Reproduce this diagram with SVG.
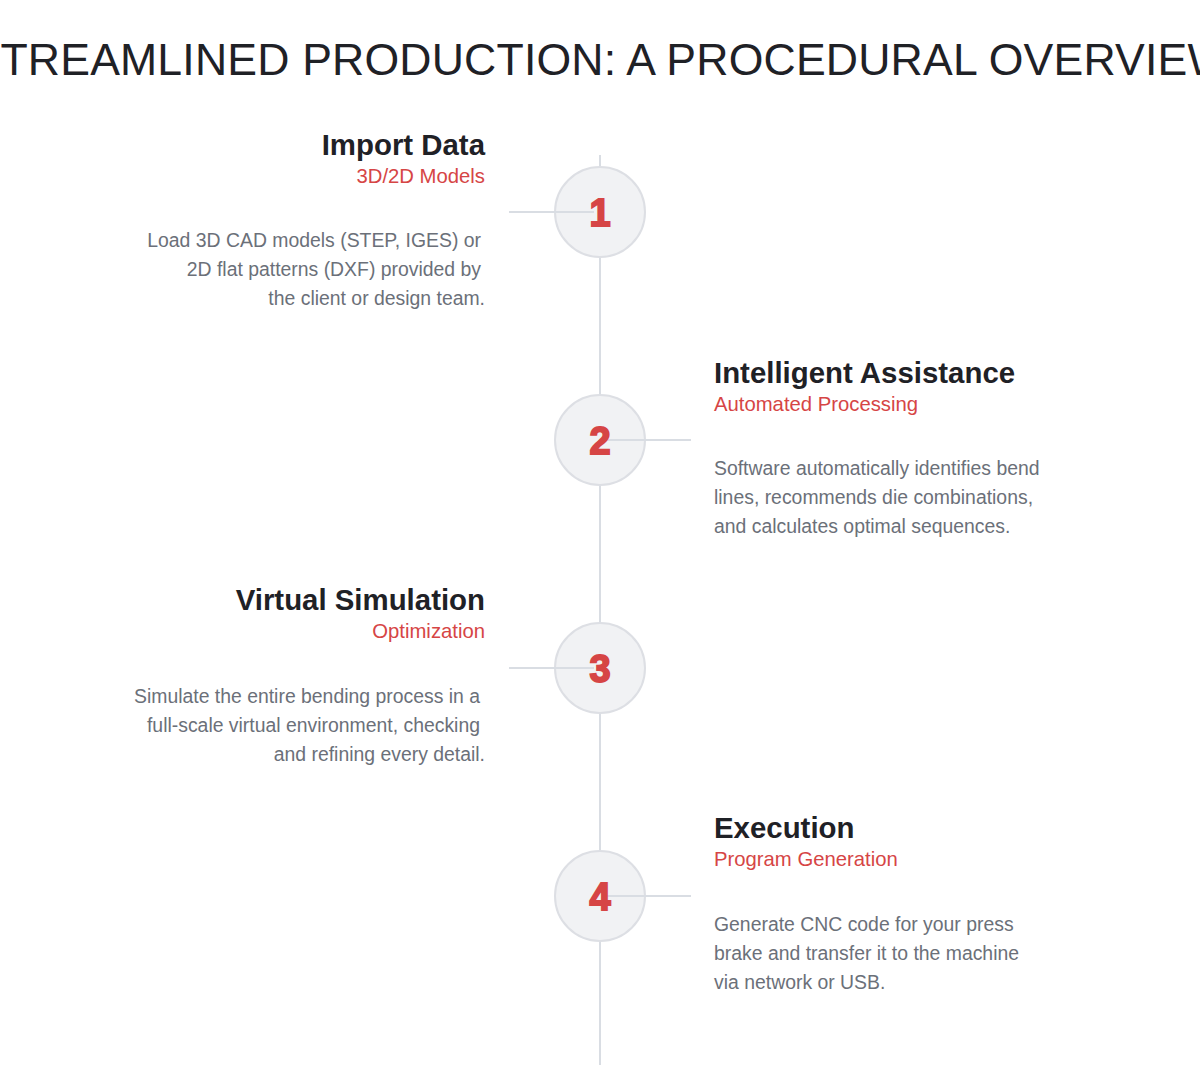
<svg xmlns="http://www.w3.org/2000/svg" width="1200" height="1089" viewBox="0 0 1200 1089">
<style>
.title{font-family:"Liberation Sans",Arial,sans-serif;font-size:44.6px;fill:#1f2126;}
.h{font-family:"Liberation Sans",Arial,sans-serif;font-size:29.4px;font-weight:bold;fill:#1f2126;}
.sub{font-family:"Liberation Sans",Arial,sans-serif;font-size:20.3px;fill:#d64545;}
.d{font-family:"Liberation Sans",Arial,sans-serif;font-size:19.4px;fill:#6b7079;}
.l{text-anchor:end;}
.circ{fill:#f1f2f4;stroke:#dddfe4;stroke-width:2;}
.num{font-family:"Liberation Sans",Arial,sans-serif;font-size:38px;font-weight:900;fill:#d64545;stroke:#d64545;stroke-width:1.8;text-anchor:middle;}
.tl{stroke:#d9dde3;stroke-width:2;fill:none;}
</style>
<rect width="1200" height="1089" fill="#ffffff"/>
<text class="title" x="600" y="74.5" text-anchor="middle" textLength="1259" lengthAdjust="spacing">STREAMLINED PRODUCTION: A PROCEDURAL OVERVIEW</text>
<g id="connectors">
<line class="tl" x1="600" y1="155" x2="600" y2="1065"/>
</g>
<g id="step1">
<circle class="circ" cx="600" cy="212" r="45"/>
<line class="tl" x1="509" y1="212" x2="594" y2="212"/>
<text class="num" x="600" y="226">1</text>
<text class="h l" x="485" y="155">Import Data</text>
<text class="sub l" x="485" y="183">3D/2D Models</text>
<text class="d l" x="481" y="247">Load 3D CAD models (STEP, IGES) or</text>
<text class="d l" x="481" y="276">2D flat patterns (DXF) provided by</text>
<text class="d l" x="485" y="305">the client or design team.</text>
</g>
<g id="step2">
<circle class="circ" cx="600" cy="440" r="45"/>
<line class="tl" x1="606" y1="440" x2="691" y2="440"/>
<text class="num" x="600" y="454">2</text>
<text class="h" x="714" y="383">Intelligent Assistance</text>
<text class="sub" x="714" y="411">Automated Processing</text>
<text class="d" x="714" y="475">Software automatically identifies bend</text>
<text class="d" x="714" y="504">lines, recommends die combinations,</text>
<text class="d" x="714" y="533">and calculates optimal sequences.</text>
</g>
<g id="step3">
<circle class="circ" cx="600" cy="668" r="45"/>
<line class="tl" x1="509" y1="668" x2="594" y2="668"/>
<text class="num" x="600" y="682">3</text>
<text class="h l" x="485" y="610">Virtual Simulation</text>
<text class="sub l" x="485" y="638">Optimization</text>
<text class="d l" x="480" y="703">Simulate the entire bending process in a</text>
<text class="d l" x="480" y="732">full-scale virtual environment, checking</text>
<text class="d l" x="485" y="761">and refining every detail.</text>
</g>
<g id="step4">
<circle class="circ" cx="600" cy="896" r="45"/>
<line class="tl" x1="606" y1="896" x2="691" y2="896"/>
<text class="num" x="600" y="910">4</text>
<text class="h" x="714" y="838">Execution</text>
<text class="sub" x="714" y="866">Program Generation</text>
<text class="d" x="714" y="931">Generate CNC code for your press</text>
<text class="d" x="714" y="960">brake and transfer it to the machine</text>
<text class="d" x="714" y="989">via network or USB.</text>
</g>
</svg>
